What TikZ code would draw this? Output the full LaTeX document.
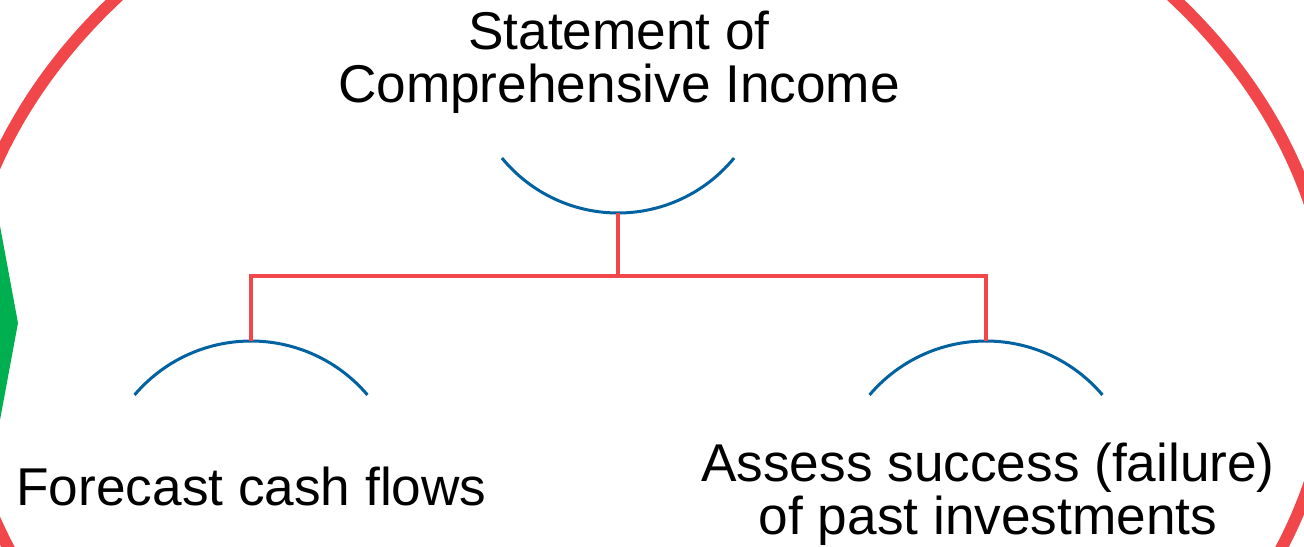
\documentclass[tikz,border=0pt]{standalone}
\usepackage{fontspec}
\setmainfont{Liberation Sans}
\definecolor{ringred}{RGB}{241,70,74}
\definecolor{arcblue}{RGB}{0,98,160}
\definecolor{chevgreen}{RGB}{0,176,80}
\begin{document}
\begin{tikzpicture}[x=0.5pt,y=-0.5pt,
  caption/.style={inner sep=0pt, font=\fontsize{26.6pt}{26.5pt}\selectfont, align=center, text=black},
  ring/.style={draw=ringred, line width=6pt},
  cup/.style={draw=arcblue, line width=1.5pt},
  link/.style={draw=ringred, line width=1.6pt}]
\useasboundingbox (0,0) rectangle (1304,546);
\clip (0,0) rectangle (1304,546);
\fill[white] (0,0) rectangle (1304,546);

% large outer ring
\draw[ring] (645,343) ellipse [x radius=344pt, y radius=269.5pt];

% green chevron at the left border
\fill[chevgreen] (-10,172) -- (18,323) -- (-10,474) -- cycle;

% blue arcs
\draw[cup] plot[domain=39.3:140.7, samples=60] ({618+150*cos(\x)}, {63+150*sin(\x)});
\draw[cup] plot[domain=-139.7:-40.3, samples=60] ({251+152.7*cos(\x)}, {493.7+152.7*sin(\x)});
\draw[cup] plot[domain=-139.7:-40.3, samples=60] ({986+152.7*cos(\x)}, {493.7+152.7*sin(\x)});

% connector anchor points on the arcs
\coordinate (topcup) at (618,213);
\coordinate (bus) at (618,276);
\coordinate (leftcup) at (251,341);
\coordinate (rightcup) at (986,341);

% red connectors
\draw[link] (topcup) -- (bus);
\draw[link] (leftcup) |- (bus) -| (rightcup);

% labels
\node[caption, anchor=north] (sci) at (619,11) {Statement of\\Comprehensive Income};
\node[caption, anchor=base] (fcf) at (251.5,505) {Forecast cash flows};
\node[caption, anchor=north] (assess) at (988,443) {Assess success (failure)\\of past investments};
\end{tikzpicture}
\end{document}
